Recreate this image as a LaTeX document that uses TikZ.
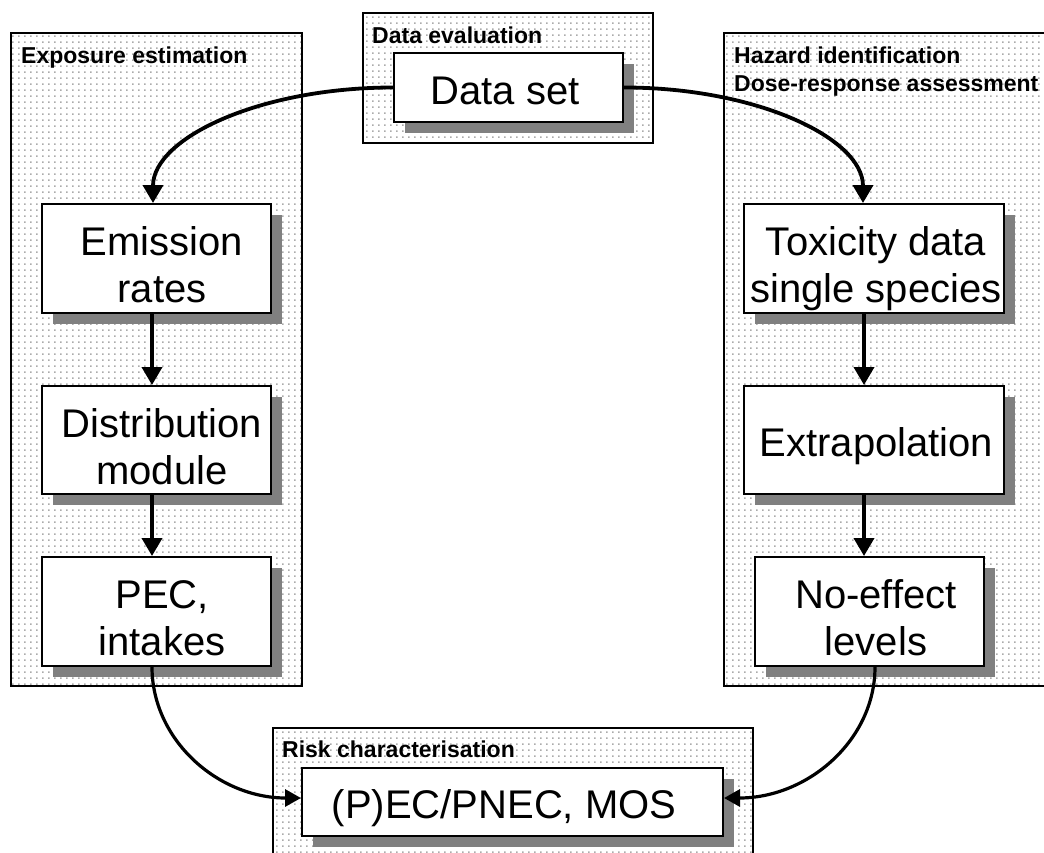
\documentclass[tikz,border=0pt]{standalone}
\usepackage{fontspec}
\setmainfont{Liberation Sans}
\usetikzlibrary{arrows.meta,shadows,patterns,calc}
\definecolor{shadowgray}{HTML}{808080}
\definecolor{dotgray}{HTML}{ABABAB}
\pgfdeclarepatterninherentlycolored{griddots}{\pgfpointorigin}{\pgfqpoint{6pt}{6pt}}{\pgfqpoint{6pt}{6pt}}{%
  \pgfsetfillcolor{dotgray}\pgfpathrectangle{\pgfpointorigin}{\pgfqpoint{2pt}{2pt}}\pgfusepath{fill}}
\newcommand{\twolines}[2]{\begin{tabular}[b]{@{}c@{}}#1\\#2\end{tabular}}
\begin{document}
\begin{tikzpicture}[x=1pt,y=-1pt,
  panel/.style={draw=black, line width=1.8pt, pattern=griddots},
  box/.style={draw=black, line width=2pt, fill=white, inner sep=2pt,
    font=\fontsize{40}{47}\selectfont,
    drop shadow={shadow xshift=11pt, shadow yshift=-11pt, fill=shadowgray, opacity=1},
    text height=33pt, text depth=0pt},
  twoline/.style={text height=88pt},
  lbl/.style={font=\fontsize{23}{28}\selectfont\bfseries, inner sep=0pt, anchor=base west},
  arr/.style={line width=3.8pt, -{Triangle[length=18pt,width=20pt]}},
  arrb/.style={line width=3.2pt, -{Triangle[length=16pt,width=17pt]}}]
\useasboundingbox (0,0) rectangle (1044,852);
\fill[white] (0,0) rectangle (1044,852);
\clip (0,0) rectangle (1044,852);
% panels
\path[panel] (11,33) rectangle (302,686);
\path[panel] (363,13) rectangle (653,143);
\path[panel] (724,33) rectangle (1070,686);
\path[panel] (273,728) rectangle (753,880);
% panel titles
\node[lbl] (lexp) at (21,63) {Exposure estimation};
\node[lbl] (ldata) at (372,43) {Data evaluation};
\node[lbl] (lhaz1) at (734,63) {Hazard identification};
\node[lbl] (lhaz2) at (734,91) {Dose-response assessment};
\node[lbl] (lrisk) at (282,757) {Risk characterisation};
% boxes
\node[box, minimum width=229pt, minimum height=69pt] (ds) at (508.5,87.5) {Data set\kern7pt};
\node[box, twoline, minimum width=229pt, minimum height=109pt] (emis) at (156.5,258.5) {\kern11pt\twolines{Emission}{rates}};
\node[box, twoline, minimum width=229pt, minimum height=108pt] (dist) at (156.5,440) {\kern11pt\twolines{Distribution}{module}};
\node[box, twoline, minimum width=229pt, minimum height=109pt] (pec) at (156.5,611.5) {\kern11pt\twolines{PEC,}{intakes}};
\node[box, twoline, minimum width=260pt, minimum height=109pt] (tox) at (874,258.5) {\kern4pt\twolines{Toxicity data}{single species}};
\node[box, minimum width=260pt, minimum height=108pt] (extra) at (874,440) {\kern5pt Extrapolation};
\node[box, twoline, minimum width=229pt, minimum height=109pt] (noeff) at (869.5,611.5) {\kern13pt\twolines{No-effect}{levels}};
\node[box, minimum width=421pt, minimum height=68pt] (risk) at (512.5,802) {(P)EC/PNEC, MOS\kern17pt};
% connector end points
\coordinate (emisIn) at ([xshift=-3.5pt]emis.north);
\coordinate (toxIn) at ([xshift=-11pt]tox.north);
\coordinate (pecOut) at ([xshift=-4.5pt]pec.south);
\coordinate (noeffOut) at ([xshift=5.5pt]noeff.south);
\coordinate (riskInL) at ([yshift=4pt]risk.west);
\coordinate (riskInR) at ([yshift=4pt]risk.east);
% connectors
\draw[arr] (ds.west) .. controls ($(ds.west)+(-133,0)$) and ($(emisIn)+(0,-65)$) .. (emisIn);
\draw[arr] (ds.east) .. controls ($(ds.east)+(132,0)$) and ($(toxIn)+(0,-65)$) .. (toxIn);
\draw[arr] ([xshift=-4.5pt]emis.south) -- ([xshift=-4.5pt]dist.north);
\draw[arr] ([xshift=-4.5pt]dist.south) -- ([xshift=-4.5pt]pec.north);
\draw[arr] ([xshift=-10pt]tox.south) -- ([xshift=-10pt]extra.north);
\draw[arr] ([xshift=-10pt]extra.south) -- ([xshift=-5.5pt]noeff.north);
\draw[arrb] (pecOut) .. controls ($(pecOut)+(0,73)$) and ($(riskInL)+(-83,0)$) .. (riskInL);
\draw[arrb] (noeffOut) .. controls ($(noeffOut)+(0,73)$) and ($(riskInR)+(84,0)$) .. (riskInR);
\end{tikzpicture}
\end{document}
